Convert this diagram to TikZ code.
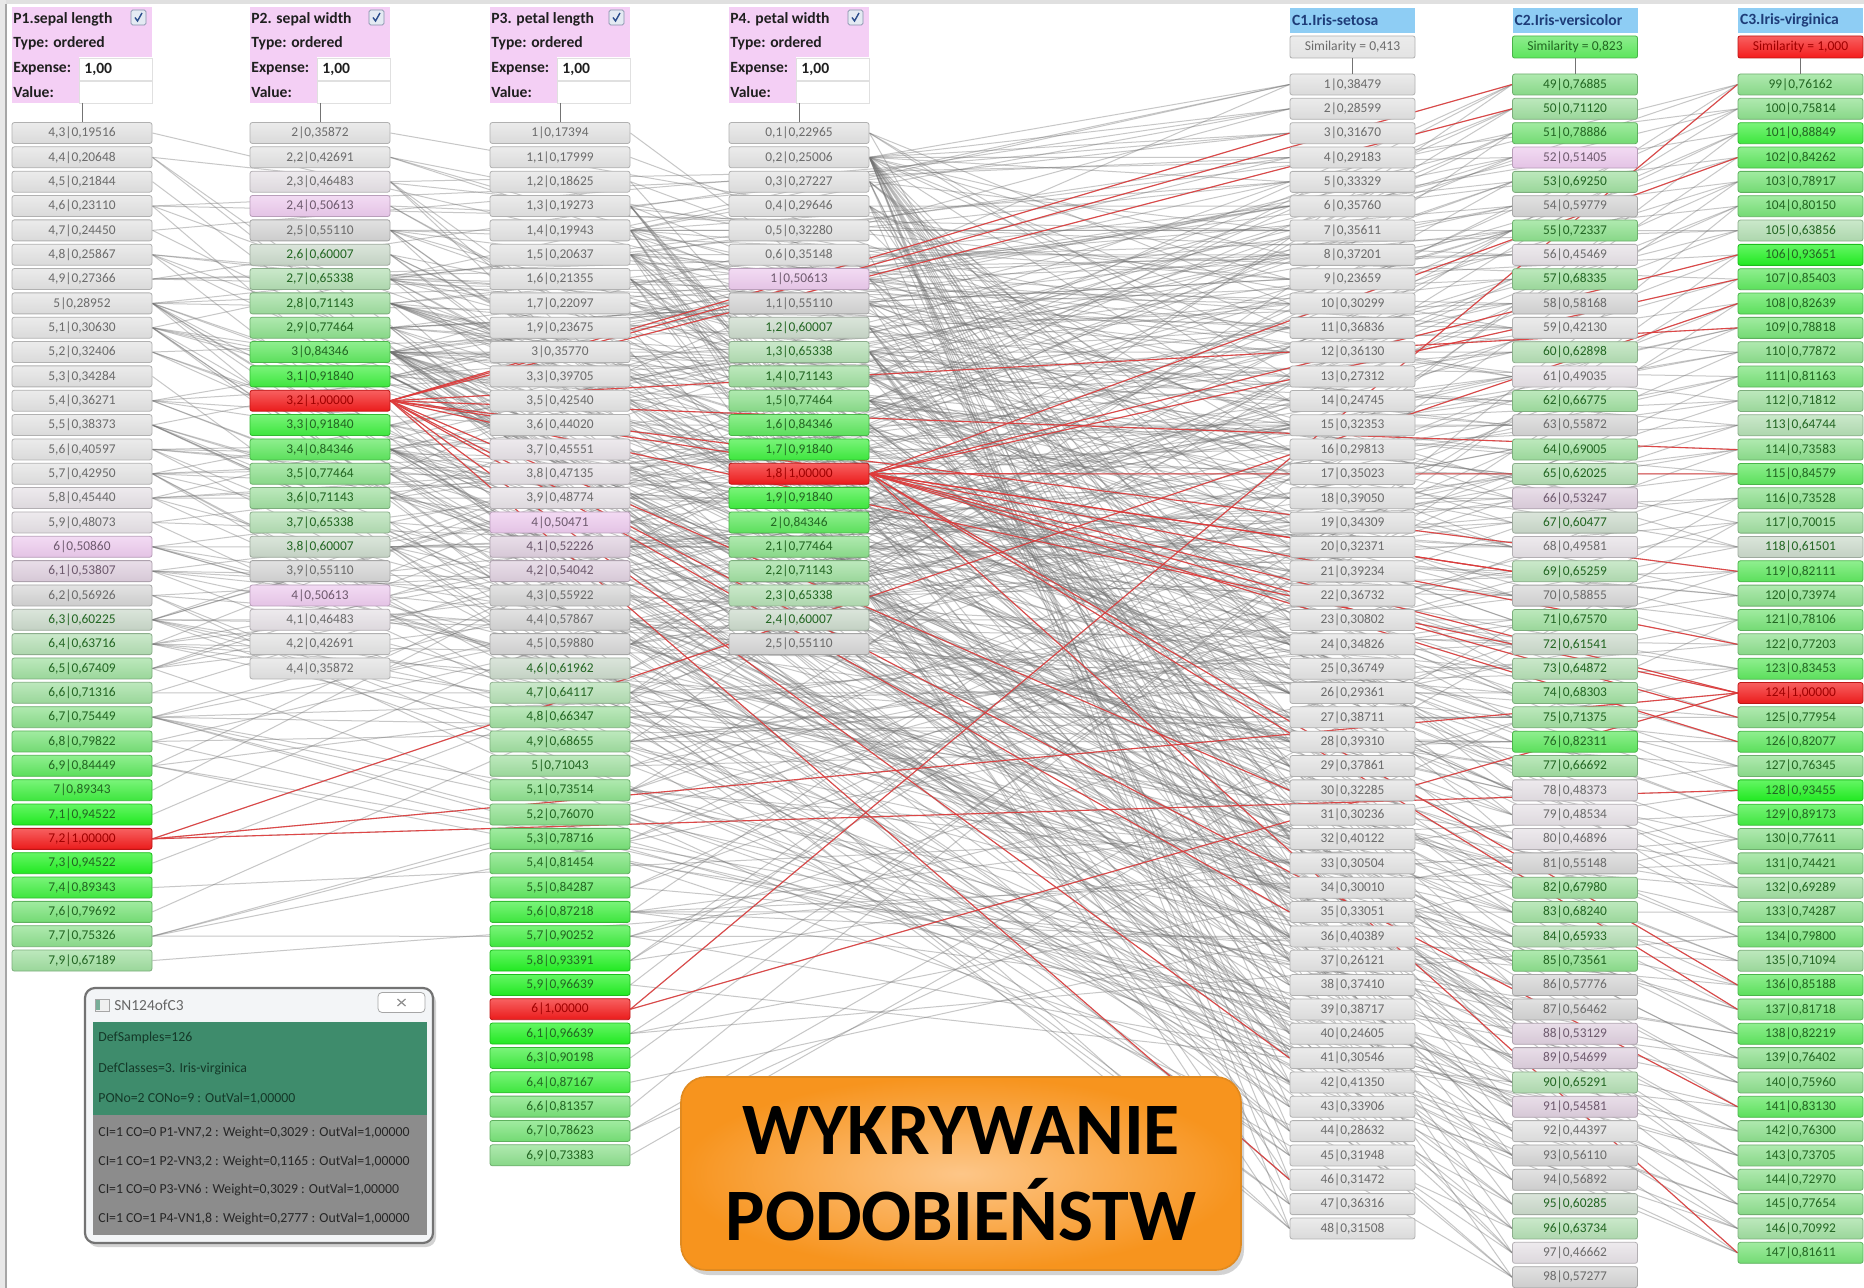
\documentclass[tikz,border=0pt]{standalone}
\usepackage{fontspec}
\setmainfont{Carlito}
\usetikzlibrary{backgrounds,shadows}
\definecolor{g1}{HTML}{E3E3E3}
\definecolor{g2}{HTML}{E6E1E6}
\definecolor{pk}{HTML}{EDCBEE}
\definecolor{pg}{HTML}{DFD0DF}
\definecolor{g3}{HTML}{D5D5D5}
\definecolor{gn0}{HTML}{CBDACB}
\definecolor{gn1}{HTML}{B4DFB4}
\definecolor{gn2}{HTML}{A0DFA0}
\definecolor{gn3}{HTML}{8DE08D}
\definecolor{gn4}{HTML}{78E378}
\definecolor{gn5}{HTML}{5FE85F}
\definecolor{gn6}{HTML}{40EF40}
\definecolor{gn7}{HTML}{22F222}
\definecolor{rd}{HTML}{F41C1C}
\definecolor{tg}{HTML}{6B6B6B}
\definecolor{tp}{HTML}{6E5A6E}
\definecolor{tgr}{HTML}{226622}
\definecolor{trd}{HTML}{A00000}
\definecolor{hpink}{HTML}{F4CFF5}
\definecolor{hblue}{HTML}{8ECDF4}
\definecolor{hbluet}{HTML}{1E3C78}
\definecolor{simgreen}{HTML}{5CE55C}
\definecolor{chkfill}{HTML}{E4EAF3}
\definecolor{chkdraw}{HTML}{8592AA}
\definecolor{chkblue}{HTML}{2B4D8C}
\definecolor{popgreen}{HTML}{3E8C6C}
\definecolor{popgrey}{HTML}{8C8C8C}
\definecolor{popbg}{HTML}{F3F5F7}
\definecolor{popgt}{HTML}{143828}
\definecolor{popdt}{HTML}{262626}
\definecolor{redline}{HTML}{E03A3A}
\definecolor{orin}{HTML}{FDC688}
\definecolor{orout}{HTML}{F7941E}
\definecolor{orbord}{HTML}{E08A20}

\newcommand\pickcol[1]{%
\ifdim #1pt<0.45pt \def\cf{g1}\def\ct{tg}\else
\ifdim #1pt<0.50pt \def\cf{g2}\def\ct{tg}\else
\ifdim #1pt<0.52pt \def\cf{pk}\def\ct{tp}\else
\ifdim #1pt<0.55pt \def\cf{pg}\def\ct{tp}\else
\ifdim #1pt<0.60pt \def\cf{g3}\def\ct{tg}\else
\ifdim #1pt<0.62pt \def\cf{gn0}\def\ct{tgr}\else
\ifdim #1pt<0.66pt \def\cf{gn1}\def\ct{tgr}\else
\ifdim #1pt<0.72pt \def\cf{gn2}\def\ct{tgr}\else
\ifdim #1pt<0.78pt \def\cf{gn3}\def\ct{tgr}\else
\ifdim #1pt<0.82pt \def\cf{gn4}\def\ct{tgr}\else
\ifdim #1pt<0.87pt \def\cf{gn5}\def\ct{tgr}\else
\ifdim #1pt<0.92pt \def\cf{gn6}\def\ct{tgr}\else
\ifdim #1pt<0.99pt \def\cf{gn7}\def\ct{tgr}\else
\def\cf{rd}\def\ct{trd}\fi\fi\fi\fi\fi\fi\fi\fi\fi\fi\fi\fi\fi}

\newcommand\mkcell[5]{\pickcol{#5}\node[#1,top color=\cf!70!white,bottom color=\cf!96!black,draw=\cf!78!black,text=\ct] (#2) at #3 {#4};}

\newcommand\pcol[3]{\foreach \kk/\hi/\lo [count=\ri from 0] in {#3}{%
  \pgfmathtruncatemacro\ki{div(\kk,10)}%
  \pgfmathtruncatemacro\kf{mod(\kk,10)}%
  \edef\lab{\ifnum\kf=0 \ki\else\ki,\kf\fi|\hi,\lo}%
  \mkcell{pcell}{#1\kk}{(#2,{133+24.34*\ri})}{\lab}{\hi.\lo}}}

\newcommand\ccol[3]{\foreach \hi/\lo [count=\sn from #2] in {#3}{%
  \pgfmathtruncatemacro\row{\sn-#2}%
  \mkcell{ccell}{s\sn}{(#1,{84.5+24.34*\row})}{\sn|\hi,\lo}{\hi.\lo}}}

\newcommand\phead[4]{%
 \fill[hpink] (#1,7) rectangle (#1+140,57);
 \fill[hpink] (#1,57) rectangle (#1+67,103);
 \node[wbox] (#3e) at (#1+103.5,69) {};
 \node[wbox] (#3v) at (#1+103.5,92.5) {};
 \node[htext] (#3t) at (#1+1,19) {#2};
 \node[htext] (#3y) at (#1+1,43.5) {Type: ordered};
 \node[htext] (#3x) at (#1+1,68.5) {Expense:};
 \node[htext] (#3l) at (#1+1,92.5) {Value:};
 \node[htext] (#3n) at (#1+72,69) {1,00};
 \node[chk] (#3k) at (#1+126.5,17.5) {};
 \draw[chkmark,shift={(#3k.center)}] (-3.5,0) -- (-1,3.5) -- (3.5,-4.5);
 \coordinate (#3c) at (#1+70,103);
 \draw[vconn] (#3c) -- (#4.north);}

\newcommand\chead[7]{%
 \node[cblue] (#6h) at (#1,20.5) {};
 \node[ctext] (#6n) at (#6h.west) {#2};
 \node[csim,top color=#4!70!white,bottom color=#4,draw=#4!78!black,text=#5] (#6s) at (#1,47) {#3};
 \draw[vconn] (#6s.south) -- (#7.north);}

\def\irisdata{1/51/35/14/2,2/49/30/14/2,3/47/32/13/2,4/46/31/15/2,5/50/36/14/2,6/54/39/17/4,7/46/34/14/3,8/50/34/15/2,9/44/29/14/2,10/49/31/15/1,11/54/37/15/2,12/48/34/16/2,13/48/30/14/1,14/43/30/11/1,15/58/40/12/2,16/57/44/15/4,17/54/39/13/4,18/51/35/14/3,19/57/38/17/3,20/51/38/15/3,21/54/34/17/2,22/51/37/15/4,23/46/36/10/2,24/51/33/17/5,25/48/34/19/2,26/50/30/16/2,27/50/34/16/4,28/52/35/15/2,29/52/34/14/2,30/47/32/16/2,31/48/31/16/2,32/54/34/15/4,33/52/41/15/1,34/55/42/14/2,35/50/32/12/2,36/55/35/13/2,37/44/30/13/2,38/51/34/15/2,39/50/35/13/3,40/45/23/13/3,41/44/32/13/2,42/50/35/16/6,43/51/38/19/4,44/48/30/14/3,45/51/38/16/2,46/46/32/14/2,47/53/37/15/2,48/50/33/14/2,%
49/70/32/47/14,50/64/32/45/15,51/69/31/49/15,52/55/23/40/13,53/65/28/46/15,54/57/28/45/13,55/63/33/47/16,56/49/24/33/10,57/66/29/46/13,58/52/27/39/14,59/50/20/35/10,60/59/30/42/15,61/60/22/40/10,62/61/29/47/14,63/56/29/36/13,64/67/31/44/14,65/56/30/45/15,66/58/27/41/10,67/62/22/45/15,68/56/25/39/11,69/59/32/48/18,70/61/28/40/13,71/63/25/49/15,72/61/28/47/12,73/64/29/43/13,74/66/30/44/14,75/68/28/48/14,76/67/30/50/17,77/60/29/45/15,78/57/26/35/10,79/55/24/38/11,80/55/24/37/10,81/58/27/39/12,82/60/27/51/16,83/54/30/45/15,84/60/34/45/16,85/67/31/47/15,86/63/23/44/13,87/56/30/41/13,88/55/25/40/13,89/55/26/44/12,90/61/30/46/14,91/58/26/40/12,92/50/23/33/10,93/56/27/42/13,94/57/30/42/12,95/57/29/42/13,96/62/29/43/13,97/51/25/30/11,98/57/28/41/13,%
99/63/33/60/25,100/58/27/51/19,101/71/30/59/21,102/63/29/56/18,103/65/30/58/22,104/76/30/66/21,105/49/25/45/17,106/73/29/63/18,107/67/25/58/18,108/72/36/61/25,109/65/32/51/20,110/64/27/53/19,111/68/30/55/21,112/57/25/50/20,113/58/28/51/24,114/64/32/53/23,115/65/30/55/18,116/77/38/67/22,117/77/26/69/23,118/60/22/50/15,119/69/32/57/23,120/56/28/49/20,121/77/28/67/20,122/63/27/49/18,123/67/33/57/21,124/72/32/60/18,125/62/28/48/18,126/61/30/49/18,127/64/28/56/21,128/72/30/58/16,129/74/28/61/19,130/79/38/64/20,131/64/28/56/22,132/63/28/51/15,133/61/26/56/14,134/77/30/61/23,135/63/34/56/24,136/64/31/55/18,137/60/30/48/18,138/69/31/54/21,139/67/31/56/24,140/69/31/51/23,141/68/32/59/23,142/67/33/57/25,143/67/30/52/23,144/63/25/50/19,145/65/30/52/20,146/62/34/54/23,147/59/30/51/18}

\begin{document}
\begin{tikzpicture}[x=0.5pt,y=-0.5pt,
 pcell/.style={rectangle,rounded corners=1.2pt,minimum width=70pt,minimum height=10.5pt,inner sep=0pt,line width=0.4pt,font=\fontsize{6.7}{8}\selectfont},
 ccell/.style={pcell,minimum width=62.5pt},
 gline/.style={draw=black!55,opacity=0.4,line width=0.5pt},
 rline/.style={draw=redline,opacity=0.9,line width=0.55pt},
 vconn/.style={draw=black!55,line width=0.5pt},
 htext/.style={anchor=west,inner sep=0pt,font=\bfseries\fontsize{7.8}{9}\selectfont,text=black!88},
 wbox/.style={rectangle,fill=white,draw=black!12,line width=0.3pt,minimum width=36.5pt,minimum height=11pt,inner sep=0pt},
 chk/.style={rectangle,rounded corners=0.8pt,fill=chkfill,draw=chkdraw,line width=0.4pt,minimum size=7.5pt,inner sep=0pt},
 chkmark/.style={draw=chkblue,line width=0.7pt},
 cblue/.style={rectangle,fill=hblue,minimum width=62.5pt,minimum height=12.5pt,inner sep=0pt},
 ctext/.style={anchor=west,inner sep=0pt,xshift=1pt,font=\bfseries\fontsize{7.8}{9}\selectfont,text=hbluet},
 csim/.style={rectangle,rounded corners=1pt,minimum width=62.5pt,minimum height=11pt,inner sep=0pt,line width=0.4pt,font=\fontsize{6.8}{8}\selectfont},
 ptext/.style={anchor=west,inner sep=0pt,font=\fontsize{6.9}{8}\selectfont},
 popwin/.style={rectangle,rounded corners=5pt,minimum width=174pt,minimum height=127.5pt,fill=popbg,draw=black!55,line width=1.1pt,drop shadow={shadow xshift=1.5pt,shadow yshift=-2pt,opacity=0.35}},
 titlebox/.style={rectangle,rounded corners=12.5pt,minimum width=280pt,minimum height=96.5pt,inner color=orin,outer color=orout,draw=orbord,line width=0.8pt,align=center,font=\bfseries\fontsize{37}{43}\selectfont,text=black,drop shadow={shadow xshift=1.5pt,shadow yshift=-2.5pt,opacity=0.35}}
]
\useasboundingbox (0,0) rectangle (1864,1288);

% ---------- value columns ----------
\pcol{a}{82}{43/0/19516,44/0/20648,45/0/21844,46/0/23110,47/0/24450,48/0/25867,49/0/27366,50/0/28952,51/0/30630,52/0/32406,53/0/34284,54/0/36271,55/0/38373,56/0/40597,57/0/42950,58/0/45440,59/0/48073,60/0/50860,61/0/53807,62/0/56926,63/0/60225,64/0/63716,65/0/67409,66/0/71316,67/0/75449,68/0/79822,69/0/84449,70/0/89343,71/0/94522,72/1/00000,73/0/94522,74/0/89343,76/0/79692,77/0/75326,79/0/67189}
\pcol{b}{320}{20/0/35872,22/0/42691,23/0/46483,24/0/50613,25/0/55110,26/0/60007,27/0/65338,28/0/71143,29/0/77464,30/0/84346,31/0/91840,32/1/00000,33/0/91840,34/0/84346,35/0/77464,36/0/71143,37/0/65338,38/0/60007,39/0/55110,40/0/50613,41/0/46483,42/0/42691,44/0/35872}
\pcol{c}{560}{10/0/17394,11/0/17999,12/0/18625,13/0/19273,14/0/19943,15/0/20637,16/0/21355,17/0/22097,19/0/23675,30/0/35770,33/0/39705,35/0/42540,36/0/44020,37/0/45551,38/0/47135,39/0/48774,40/0/50471,41/0/52226,42/0/54042,43/0/55922,44/0/57867,45/0/59880,46/0/61962,47/0/64117,48/0/66347,49/0/68655,50/0/71043,51/0/73514,52/0/76070,53/0/78716,54/0/81454,55/0/84287,56/0/87218,57/0/90252,58/0/93391,59/0/96639,60/1/00000,61/0/96639,63/0/90198,64/0/87167,66/0/81357,67/0/78623,69/0/73383}
\pcol{d}{799}{1/0/22965,2/0/25006,3/0/27227,4/0/29646,5/0/32280,6/0/35148,10/0/50613,11/0/55110,12/0/60007,13/0/65338,14/0/71143,15/0/77464,16/0/84346,17/0/91840,18/1/00000,19/0/91840,20/0/84346,21/0/77464,22/0/71143,23/0/65338,24/0/60007,25/0/55110}

% ---------- sample columns ----------
\ccol{1352.5}{1}{0/38479,0/28599,0/31670,0/29183,0/33329,0/35760,0/35611,0/37201,0/23659,0/30299,0/36836,0/36130,0/27312,0/24745,0/32353,0/29813,0/35023,0/39050,0/34309,0/32371,0/39234,0/36732,0/30802,0/34826,0/36749,0/29361,0/38711,0/39310,0/37861,0/32285,0/30236,0/40122,0/30504,0/30010,0/33051,0/40389,0/26121,0/37410,0/38717,0/24605,0/30546,0/41350,0/33906,0/28632,0/31948,0/31472,0/36316,0/31508}
\ccol{1575}{49}{0/76885,0/71120,0/78886,0/51405,0/69250,0/59779,0/72337,0/45469,0/68335,0/58168,0/42130,0/62898,0/49035,0/66775,0/55872,0/69005,0/62025,0/53247,0/60477,0/49581,0/65259,0/58855,0/67570,0/61541,0/64872,0/68303,0/71375,0/82311,0/66692,0/48373,0/48534,0/46896,0/55148,0/67980,0/68240,0/65933,0/73561,0/57776,0/56462,0/53129,0/54699,0/65291,0/54581,0/44397,0/56110,0/56892,0/60285,0/63734,0/46662,0/57277}
\ccol{1800.5}{99}{0/76162,0/75814,0/88849,0/84262,0/78917,0/80150,0/63856,0/93651,0/85403,0/82639,0/78818,0/77872,0/81163,0/71812,0/64744,0/73583,0/84579,0/73528,0/70015,0/61501,0/82111,0/73974,0/78106,0/77203,0/83453,1/00000,0/77954,0/82077,0/76345,0/93455,0/89173,0/77611,0/74421,0/69289,0/74287,0/79800,0/71094,0/85188,0/81718,0/82219,0/76402,0/75960,0/83130,0/76300,0/73705,0/72970,0/77654,0/70992,0/81611}

% ---------- headers ----------
\phead{12}{P1.sepal length}{h1}{a43}
\phead{250}{P2. sepal width}{h2}{b20}
\phead{490}{P3. petal length}{h3}{c10}
\phead{729}{P4. petal width}{h4}{d1}
\chead{1352.5}{C1.Iris-setosa}{Similarity = 0,413}{g1}{tg}{k1}{s1}
\chead{1575}{C2.Iris-versicolor}{Similarity = 0,823}{simgreen}{tgr}{k2}{s49}
\chead{1800.5}{C3.Iris-virginica}{Similarity = 1,000}{rd}{trd}{k3}{s99}

% ---------- connections (behind) ----------
\begin{pgfonlayer}{background}
\fill[white] (0,0) rectangle (1864,1288);
\fill[black!12] (0,0) rectangle (1864,4);
\fill[black!9] (0,0) rectangle (6,1288);
\draw[black!35,line width=0.6pt] (6,4) -- (6,1288);
\foreach \sa/\qa/\qb/\qc/\qd in \irisdata{%
 \draw[gline] (a\qa.east) -- (s\sa.west);
 \draw[gline] (b\qb.east) -- (s\sa.west);
 \draw[gline] (c\qc.east) -- (s\sa.west);
 \draw[gline] (d\qd.east) -- (s\sa.west);}
\foreach \sa/\qa/\qb/\qc/\qd in \irisdata{%
 \ifnum\qa=72 \draw[rline] (a\qa.east) -- (s\sa.west);\fi
 \ifnum\qb=32 \draw[rline] (b\qb.east) -- (s\sa.west);\fi
 \ifnum\qc=60 \draw[rline] (c\qc.east) -- (s\sa.west);\fi
 \ifnum\qd=18 \draw[rline] (d\qd.east) -- (s\sa.west);\fi}
\end{pgfonlayer}

% ---------- popup window ----------
\node[popwin] (pop) at (259,1115.5) {};
\fill[popgreen] (93,1022) rectangle (427,1115);
\fill[popgrey] (93,1115) rectangle (427,1235);
\node[draw=black!35,fill=black!6,minimum width=7pt,minimum height=6pt,inner sep=0pt] (picon) at (102,1005) {};
\fill[popgreen!70] (96,1000) rectangle (100,1010);
\node[anchor=west,inner sep=0pt,font=\fontsize{7.7}{9}\selectfont,text=black!60] (ptitle) at (114,1005) {SN124ofC3};
\node[draw=black!35,rounded corners=2pt,fill=white,minimum width=23.5pt,minimum height=10pt,inner sep=0pt] (pclose) at (401.5,1002.5) {};
\draw[black!45,line width=0.6pt,shift={(pclose.center)}] (-4,-3.5) -- (4,3.5) (-4,3.5) -- (4,-3.5);
\node[ptext,text=popgt] (pl1) at (98,1038) {DefSamples=126};
\node[ptext,text=popgt] (pl2) at (98,1069) {DefClasses=3. Iris-virginica};
\node[ptext,text=popgt] (pl3) at (98,1099) {PONo=2 CONo=9 : OutVal=1,00000};
\node[ptext,text=popdt] (pl4) at (98,1133) {CI=1 CO=0 P1-VN7,2 : Weight=0,3029 : OutVal=1,00000};
\node[ptext,text=popdt] (pl5) at (98,1162) {CI=1 CO=1 P2-VN3,2 : Weight=0,1165 : OutVal=1,00000};
\node[ptext,text=popdt] (pl6) at (98,1190) {CI=1 CO=0 P3-VN6 : Weight=0,3029 : OutVal=1,00000};
\node[ptext,text=popdt] (pl7) at (98,1219) {CI=1 CO=1 P4-VN1,8 : Weight=0,2777 : OutVal=1,00000};

% ---------- title ----------
\node[titlebox] (title) at (961,1173.5) {WYKRYWANIE\\PODOBIEŃSTW};
\end{tikzpicture}
\end{document}
